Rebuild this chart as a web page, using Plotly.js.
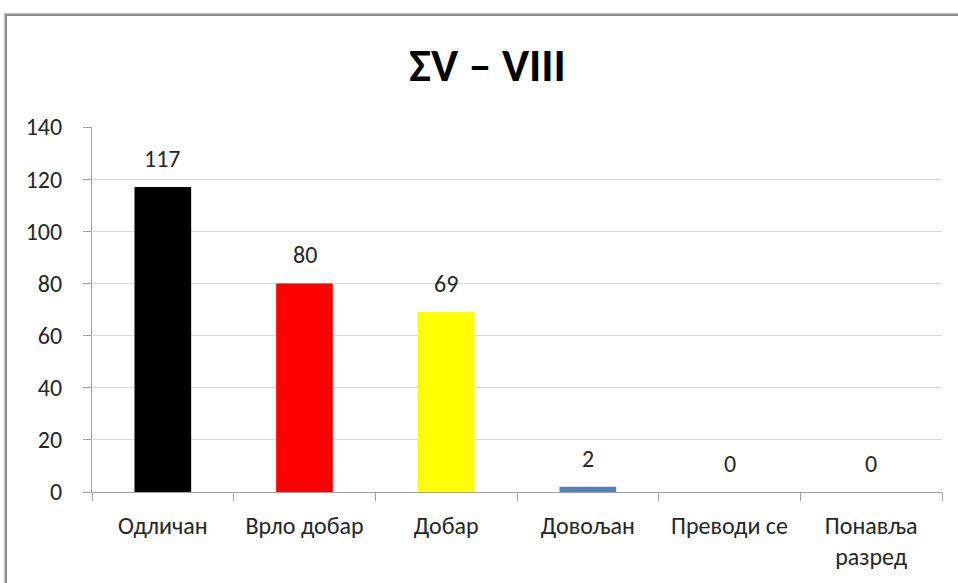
<!DOCTYPE html>
<html>
<head>
<meta charset="utf-8">
<script src="https://cdn.plot.ly/plotly-3.0.1.min.js"></script>
<style>
html,body{margin:0;padding:0;background:#fff;}
#frame{position:absolute;left:5px;top:14px;width:1000px;height:600px;border-left:2px solid #8c8c8c;border-top:2px solid #8c8c8c;box-shadow:-1px -1px 1px #c8c8c8;}
#chart{position:absolute;left:0;top:0;width:958px;height:583px;}
</style>
</head>
<body>
<div id="frame"></div>
<div id="chart"></div>
<script>
var categories = ["Одличан", "Врло добар", "Добар", "Довољан", "Преводи се", "Понавља<br>разред"];
var values = [117, 80, 69, 2, 0, 0];
var barColors = ["#000000", "#ff0000", "#ffff00", "#4f81bd", "#4f81bd", "#4f81bd"];
var yTicks = [0, 20, 40, 60, 80, 100, 120, 140];

var font = "Carlito, Calibri, 'Open Sans', sans-serif";

var trace = {
  type: "bar",
  x: categories,
  y: values,
  marker: {color: barColors},
  width: 0.4,
  hoverinfo: "none"
};

var annotations = categories.map(function (c, i) {
  return {
    x: c, y: values[i], xref: "x", yref: "y",
    text: String(values[i]),
    showarrow: false,
    yanchor: "bottom",
    yshift: 12,
    font: {family: font, size: 24, color: "#262626"}
  };
});

var layout = {
  width: 958,
  height: 583,
  paper_bgcolor: "rgba(0,0,0,0)",
  plot_bgcolor: "rgba(0,0,0,0)",
  margin: {l: 92, r: 16, t: 127, b: 91},
  showlegend: false,
  annotations: annotations,
  title: {
    text: "<b>ΣV – VIII</b>",
    font: {family: font, size: 46, color: "#000000"},
    x: 0.509, xanchor: "center",
    y: 0.888, yanchor: "middle"
  },
  xaxis: {
    type: "category",
    tickson: "boundaries",
    ticks: "outside",
    ticklen: 8,
    tickcolor: "#a0a0a0",
    showline: true,
    linecolor: "#a0a0a0",
    linewidth: 1,
    showgrid: false,
    ticklabelstandoff: 12,
    tickfont: {family: font, size: 24, color: "#262626"},
    tickangle: 0
  },
  yaxis: {
    range: [0, 140],
    tickvals: yTicks,
    ticks: "outside",
    ticklen: 8,
    tickcolor: "#a0a0a0",
    showline: true,
    linecolor: "#a0a0a0",
    showgrid: true,
    gridcolor: "#d9d9d9",
    gridwidth: 1,
    zeroline: false,
    ticklabelstandoff: 16,
    tickfont: {family: font, size: 24, color: "#262626"}
  },
  bargap: 0.6
};

Plotly.newPlot("chart", [trace], layout, {displayModeBar: false, staticPlot: true});
</script>
</body>
</html>
